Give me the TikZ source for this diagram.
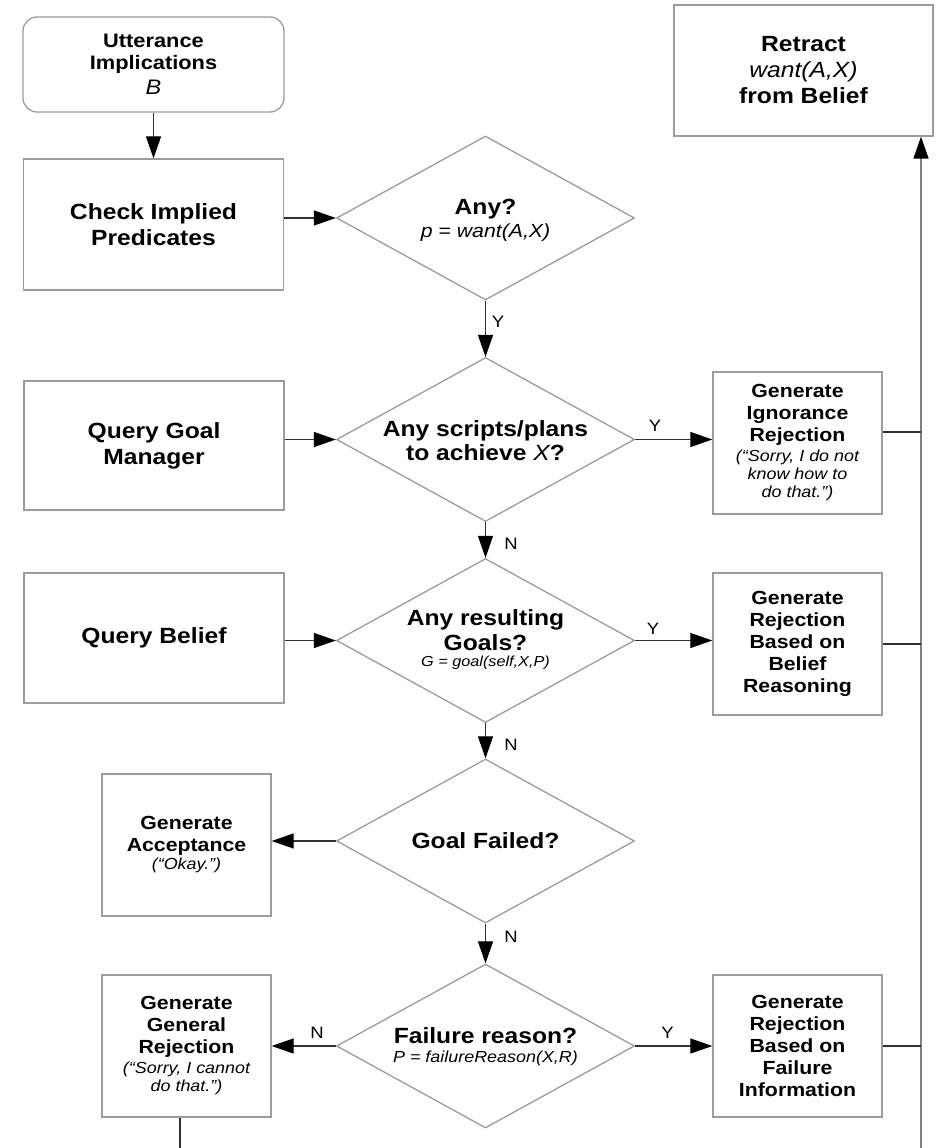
\documentclass[tikz,border=0pt]{standalone}
\usepackage{fontspec}
\setmainfont{Liberation Sans}[FakeStretch=1.12]
\usetikzlibrary{arrows.meta,shapes.geometric,calc}

\definecolor{boxline}{HTML}{9C9C9C}
\definecolor{wire}{HTML}{303030}
\definecolor{bus}{HTML}{808080}

\newcommand{\bigtxt}{\fontsize{22}{26}\selectfont\bfseries}
\newcommand{\midtxt}{\fontsize{19}{22}\selectfont\bfseries}
\newcommand{\quotetxt}{\fontsize{16}{18}\selectfont\mdseries\itshape}

\tikzset{
  box/.style={draw=boxline, line width=1.3pt, fill=white, inner sep=0pt, align=center},
  bigbox/.style={box, minimum width=260pt, minimum height=130pt, font=\bigtxt},
  genbox/.style={box, minimum width=169pt, minimum height=142pt, font=\midtxt},
  dia/.style={diamond, draw=boxline, line width=1.3pt, fill=white,
              minimum width=298pt, minimum height=164pt, inner sep=0pt},
  diatext/.style={inner sep=0pt, align=center, font=\bigtxt},
  tip/.tip={Triangle[length=22pt,width=15pt,color=black]},
  flow/.style={draw=wire, line width=1.2pt, -tip},
  plain/.style={draw=wire, line width=1.2pt},
  busline/.style={draw=bus, line width=1.7pt},
  tag/.style={inner sep=0pt, font=\fontsize{16.5}{18}\selectfont},
}

\begin{document}
\begin{tikzpicture}[x=1pt, y=-1pt]
\useasboundingbox (0,0) rectangle (941,1148);

% ---------- left column ----------
\node[box, rounded corners=14pt, minimum width=261pt, minimum height=95pt,
      font=\fontsize{19.5}{22}\selectfont\bfseries] (utt) at (153.5,64.5)
  {Utterance\\Implications\\[3pt]{\fontsize{21}{22}\selectfont\mdseries\itshape B}};
\node[bigbox, minimum height=131pt] (check) at (153.5,224.5) {Check Implied\\Predicates};
\node[bigbox, minimum height=129pt] (qgm) at (154,445.5) {Query Goal\\Manager};
\node[bigbox] (qb) at (154,638) {Query Belief};

\node[genbox] (acc) at (186.5,845)
  {Generate\\Acceptance\\[-4pt]{\quotetxt (“Okay.”)}};
\node[genbox] (gen) at (186.5,1046)
  {Generate\\General\\Rejection\\[-2pt]{\quotetxt (“Sorry, I cannot}\\[-4pt]{\quotetxt do that.”)}};

% ---------- decision column ----------
\node[dia] (any) at (485.5,218) {};
\node[diatext] (any-t) at (485.5,220)
  {Any?\\[-3pt]{\fontsize{19}{22}\selectfont\mdseries\itshape p = want(A,X)}};

\node[dia] (plans) at (485.5,439.5) {};
\node[diatext, font=\fontsize{22}{24}\selectfont\bfseries] (plans-t) at (485.5,440.5)
  {Any scripts/plans\\to achieve {\mdseries\itshape X}?};

\node[dia] (goals) at (485.5,640.5) {};
\node[diatext, font=\fontsize{22}{24.5}\selectfont\bfseries] (goals-t) at (485.5,640)
  {Any resulting\\Goals?\\[-8pt]{\fontsize{14.5}{16}\selectfont\mdseries\itshape G = goal(self,X,P)}};

\node[dia] (failed) at (485.5,841) {};
\node[diatext] (failed-t) at (485.5,841) {Goal Failed?};

\node[dia] (reason) at (485.5,1046) {};
\node[diatext] (reason-t) at (485.5,1047)
  {Failure reason?\\[-7pt]{\fontsize{16}{18}\selectfont\mdseries\itshape P = failureReason(X,R)}};

% ---------- right column ----------
\node[box, minimum width=259pt, minimum height=131pt, font=\bigtxt] (retract) at (803.5,70.5)
  {Retract\\{\mdseries\itshape want(A,X)}\\from Belief};
\node[genbox] (ign) at (797.5,443)
  {Generate\\Ignorance\\Rejection\\[-2pt]{\quotetxt (“Sorry, I do not}\\[-4pt]{\quotetxt know how to}\\[-4pt]{\quotetxt do that.”)}};
\node[genbox] (bel) at (797.5,644)
  {Generate\\Rejection\\Based on\\Belief\\Reasoning};
\node[genbox] (fail) at (797.5,1046)
  {Generate\\Rejection\\Based on\\Failure\\Information};

% ---------- main flow ----------
\draw[flow] (utt) -- (check);
\draw[flow] (check.east |- any.west) -- (any.west);
\draw[flow] (any.south) -- (plans.north);
\draw[flow] (qgm.east |- plans.west) -- (plans.west);
\draw[flow] (plans.east) -- (ign.west |- plans.east);
\draw[flow] (plans.south) -- (goals.north);
\draw[flow] (qb.east |- goals.west) -- (goals.west);
\draw[flow] (goals.east) -- (bel.west |- goals.east);
\draw[flow] (goals.south) -- (failed.north);
\draw[flow] (failed.west) -- (acc.east |- failed.west);
\draw[flow] (failed.south) -- (reason.north);
\draw[flow] (reason.west) -- (gen.east |- reason.west);
\draw[flow] (reason.east) -- (fail.west |- reason.east);

% ---------- branch labels ----------
\node[tag] (y-any)    at (498,322)   {Y};
\node[tag] (y-plans)  at (655,425.5) {Y};
\node[tag] (y-goals)  at (653,629)   {Y};
\node[tag] (y-reason) at (667.5,1032.5) {Y};
\node[tag] (n-plans)  at (511,544)   {N};
\node[tag] (n-goals)  at (511,745)   {N};
\node[tag] (n-failed) at (511,937)   {N};
\node[tag] (n-reason) at (317,1032.5) {N};

% ---------- return bus to the retraction ----------
\coordinate (busbot) at (921,1148);
\coordinate (ign-out) at ([yshift=11pt]ign.east);
\draw[busline, -tip] (busbot) -- (busbot |- retract.south);
\draw[plain] (ign-out) -- (ign-out -| busbot);
\draw[plain] (bel.east) -- (bel.east -| busbot);
\draw[plain] (fail.east) -- (fail.east -| busbot);

% ---------- exit from the general rejection ----------
\coordinate (gen-out) at ([xshift=-6.5pt]gen.south);
\draw[plain] (gen-out) -- (gen-out |- busbot);
\end{tikzpicture}
\end{document}
